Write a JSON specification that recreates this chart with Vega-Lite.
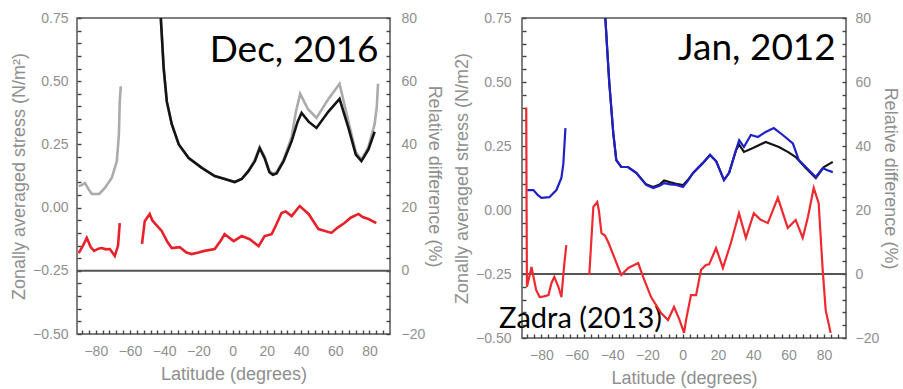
{
  "$schema": "https://vega.github.io/schema/vega-lite/v6.json",
  "background": "white",
  "padding": {"left": 9, "top": 10, "right": 0, "bottom": 0},
  "spacing": 8,
  "config": {
    "view": {"stroke": "#555", "strokeWidth": 1.5},
    "axis": {
      "domain": false, "grid": false, "labelOverlap": false, "labelFlush": false, "labelBound": false, "ticks": true,
      "labelFont": "Liberation Sans", "labelFontSize": 14, "labelColor": "#8f8f8f",
      "titleFont": "Liberation Sans", "titleFontSize": 18, "titleColor": "#8f8f8f", "titleFontWeight": "normal",
      "tickColor": "#444", "tickWidth": 1.4, "tickSize": 4, "offset": -4
    }
  },
  "datasets": {
    "L_stress": [
      {"series": "gray", "seg": "a", "lat": -90, "v": 0.085},
      {"series": "gray", "seg": "a", "lat": -88, "v": 0.09},
      {"series": "gray", "seg": "a", "lat": -86.4, "v": 0.097},
      {"series": "gray", "seg": "a", "lat": -84, "v": 0.07},
      {"series": "gray", "seg": "a", "lat": -82.3, "v": 0.054},
      {"series": "gray", "seg": "a", "lat": -78, "v": 0.054},
      {"series": "gray", "seg": "a", "lat": -74.7, "v": 0.078},
      {"series": "gray", "seg": "a", "lat": -70.7, "v": 0.117},
      {"series": "gray", "seg": "a", "lat": -67.7, "v": 0.184},
      {"series": "gray", "seg": "a", "lat": -66.5, "v": 0.29},
      {"series": "gray", "seg": "a", "lat": -66, "v": 0.42},
      {"series": "gray", "seg": "a", "lat": -65.4, "v": 0.48},
      {"series": "gray", "seg": "b", "lat": -42, "v": 0.75},
      {"series": "gray", "seg": "b", "lat": -40.3, "v": 0.55},
      {"series": "gray", "seg": "b", "lat": -38.5, "v": 0.42},
      {"series": "gray", "seg": "b", "lat": -35.6, "v": 0.33},
      {"series": "gray", "seg": "b", "lat": -31.5, "v": 0.25},
      {"series": "gray", "seg": "b", "lat": -25.7, "v": 0.196},
      {"series": "gray", "seg": "b", "lat": -18, "v": 0.157},
      {"series": "gray", "seg": "b", "lat": -10.5, "v": 0.125},
      {"series": "gray", "seg": "b", "lat": -4.6, "v": 0.113},
      {"series": "gray", "seg": "b", "lat": 1.2, "v": 0.101},
      {"series": "gray", "seg": "b", "lat": 5.3, "v": 0.113},
      {"series": "gray", "seg": "b", "lat": 9.3, "v": 0.145},
      {"series": "gray", "seg": "b", "lat": 13, "v": 0.19},
      {"series": "gray", "seg": "b", "lat": 15.8, "v": 0.24},
      {"series": "gray", "seg": "b", "lat": 18.7, "v": 0.2},
      {"series": "gray", "seg": "b", "lat": 21.5, "v": 0.145},
      {"series": "gray", "seg": "b", "lat": 23.5, "v": 0.135},
      {"series": "gray", "seg": "b", "lat": 25.7, "v": 0.14},
      {"series": "gray", "seg": "b", "lat": 29.8, "v": 0.19},
      {"series": "gray", "seg": "b", "lat": 34.5, "v": 0.28},
      {"series": "gray", "seg": "b", "lat": 37, "v": 0.38},
      {"series": "gray", "seg": "b", "lat": 39.5, "v": 0.45},
      {"series": "gray", "seg": "b", "lat": 44, "v": 0.39},
      {"series": "gray", "seg": "b", "lat": 49, "v": 0.355},
      {"series": "gray", "seg": "b", "lat": 56, "v": 0.43},
      {"series": "gray", "seg": "b", "lat": 62.5, "v": 0.49},
      {"series": "gray", "seg": "b", "lat": 67.7, "v": 0.34},
      {"series": "gray", "seg": "b", "lat": 72, "v": 0.22},
      {"series": "gray", "seg": "b", "lat": 75.3, "v": 0.19},
      {"series": "gray", "seg": "b", "lat": 79.4, "v": 0.24},
      {"series": "gray", "seg": "b", "lat": 83, "v": 0.33},
      {"series": "gray", "seg": "b", "lat": 84.3, "v": 0.4},
      {"series": "gray", "seg": "b", "lat": 85, "v": 0.49},
      {"series": "black", "seg": "b", "lat": -42, "v": 0.75},
      {"series": "black", "seg": "b", "lat": -40.3, "v": 0.55},
      {"series": "black", "seg": "b", "lat": -38.5, "v": 0.42},
      {"series": "black", "seg": "b", "lat": -35.6, "v": 0.33},
      {"series": "black", "seg": "b", "lat": -31.5, "v": 0.25},
      {"series": "black", "seg": "b", "lat": -25.7, "v": 0.196},
      {"series": "black", "seg": "b", "lat": -18, "v": 0.157},
      {"series": "black", "seg": "b", "lat": -10.5, "v": 0.125},
      {"series": "black", "seg": "b", "lat": -4.6, "v": 0.113},
      {"series": "black", "seg": "b", "lat": 1.2, "v": 0.101},
      {"series": "black", "seg": "b", "lat": 5.3, "v": 0.113},
      {"series": "black", "seg": "b", "lat": 9.3, "v": 0.145},
      {"series": "black", "seg": "b", "lat": 13, "v": 0.184},
      {"series": "black", "seg": "b", "lat": 15.8, "v": 0.235},
      {"series": "black", "seg": "b", "lat": 18.7, "v": 0.196},
      {"series": "black", "seg": "b", "lat": 21.5, "v": 0.14},
      {"series": "black", "seg": "b", "lat": 23.5, "v": 0.13},
      {"series": "black", "seg": "b", "lat": 25.7, "v": 0.135},
      {"series": "black", "seg": "b", "lat": 29.8, "v": 0.184},
      {"series": "black", "seg": "b", "lat": 34.5, "v": 0.263},
      {"series": "black", "seg": "b", "lat": 38, "v": 0.34},
      {"series": "black", "seg": "b", "lat": 40.3, "v": 0.374},
      {"series": "black", "seg": "b", "lat": 44.4, "v": 0.34},
      {"series": "black", "seg": "b", "lat": 49, "v": 0.315},
      {"series": "black", "seg": "b", "lat": 56, "v": 0.38},
      {"series": "black", "seg": "b", "lat": 62.5, "v": 0.43},
      {"series": "black", "seg": "b", "lat": 67.7, "v": 0.315},
      {"series": "black", "seg": "b", "lat": 72, "v": 0.21},
      {"series": "black", "seg": "b", "lat": 75.3, "v": 0.184},
      {"series": "black", "seg": "b", "lat": 79.4, "v": 0.23},
      {"series": "black", "seg": "b", "lat": 83, "v": 0.3}
    ],
    "L_rd": [
      {"seg": "a", "lat": -90, "rd": 5.6},
      {"seg": "a", "lat": -87.5, "rd": 8},
      {"seg": "a", "lat": -85.3, "rd": 10.4},
      {"seg": "a", "lat": -83, "rd": 7.5},
      {"seg": "a", "lat": -81, "rd": 6.3},
      {"seg": "a", "lat": -78.5, "rd": 7},
      {"seg": "a", "lat": -76.5, "rd": 7.2},
      {"seg": "a", "lat": -74, "rd": 6.8},
      {"seg": "a", "lat": -71.8, "rd": 6.9},
      {"seg": "a", "lat": -68.9, "rd": 4.7},
      {"seg": "a", "lat": -67, "rd": 8},
      {"seg": "a", "lat": -66, "rd": 15.1},
      {"seg": "b", "lat": -53, "rd": 8.5},
      {"seg": "b", "lat": -51.4, "rd": 15.7},
      {"seg": "b", "lat": -48.5, "rd": 18},
      {"seg": "b", "lat": -47, "rd": 16},
      {"seg": "b", "lat": -45.6, "rd": 15.1},
      {"seg": "b", "lat": -41.5, "rd": 12.6},
      {"seg": "b", "lat": -38, "rd": 9},
      {"seg": "b", "lat": -35.6, "rd": 7.2},
      {"seg": "b", "lat": -31, "rd": 7.5},
      {"seg": "b", "lat": -27, "rd": 5.8},
      {"seg": "b", "lat": -24, "rd": 5.3},
      {"seg": "b", "lat": -20, "rd": 5.8},
      {"seg": "b", "lat": -16.4, "rd": 6.3},
      {"seg": "b", "lat": -10.5, "rd": 6.9},
      {"seg": "b", "lat": -7, "rd": 9.5},
      {"seg": "b", "lat": -4.7, "rd": 11.6},
      {"seg": "b", "lat": 0.6, "rd": 9.4},
      {"seg": "b", "lat": 5.3, "rd": 11},
      {"seg": "b", "lat": 10, "rd": 10},
      {"seg": "b", "lat": 15.2, "rd": 7.8},
      {"seg": "b", "lat": 18.7, "rd": 11},
      {"seg": "b", "lat": 22.8, "rd": 11.6},
      {"seg": "b", "lat": 25, "rd": 14},
      {"seg": "b", "lat": 28.6, "rd": 18.3},
      {"seg": "b", "lat": 31, "rd": 18.8},
      {"seg": "b", "lat": 34.5, "rd": 17.3},
      {"seg": "b", "lat": 39.2, "rd": 20.5},
      {"seg": "b", "lat": 44.4, "rd": 18},
      {"seg": "b", "lat": 50.2, "rd": 13.2},
      {"seg": "b", "lat": 57.8, "rd": 12},
      {"seg": "b", "lat": 61, "rd": 13.5},
      {"seg": "b", "lat": 65.4, "rd": 15.1},
      {"seg": "b", "lat": 69, "rd": 16.8},
      {"seg": "b", "lat": 73.6, "rd": 18},
      {"seg": "b", "lat": 76, "rd": 17},
      {"seg": "b", "lat": 79.4, "rd": 16.4},
      {"seg": "b", "lat": 84, "rd": 15.1}
    ],
    "R_stress": [
      {"series": "black", "seg": "b", "lat": -43.8, "v": 0.75},
      {"series": "black", "seg": "b", "lat": -42.5, "v": 0.6},
      {"series": "black", "seg": "b", "lat": -41.6, "v": 0.5},
      {"series": "black", "seg": "b", "lat": -39.3, "v": 0.3},
      {"series": "black", "seg": "b", "lat": -37.6, "v": 0.195},
      {"series": "black", "seg": "b", "lat": -34.8, "v": 0.168},
      {"series": "black", "seg": "b", "lat": -31, "v": 0.168},
      {"series": "black", "seg": "b", "lat": -26.3, "v": 0.145},
      {"series": "black", "seg": "b", "lat": -20.7, "v": 0.1},
      {"series": "black", "seg": "b", "lat": -16.7, "v": 0.09},
      {"series": "black", "seg": "b", "lat": -13, "v": 0.1},
      {"series": "black", "seg": "b", "lat": -10.5, "v": 0.115},
      {"series": "black", "seg": "b", "lat": -7, "v": 0.108},
      {"series": "black", "seg": "b", "lat": -3.7, "v": 0.102},
      {"series": "black", "seg": "b", "lat": 0.2, "v": 0.097},
      {"series": "black", "seg": "b", "lat": 3, "v": 0.118},
      {"series": "black", "seg": "b", "lat": 5.9, "v": 0.145},
      {"series": "black", "seg": "b", "lat": 11.5, "v": 0.184},
      {"series": "black", "seg": "b", "lat": 15.5, "v": 0.215},
      {"series": "black", "seg": "b", "lat": 19, "v": 0.19},
      {"series": "black", "seg": "b", "lat": 23.4, "v": 0.117},
      {"series": "black", "seg": "b", "lat": 26.3, "v": 0.145},
      {"series": "black", "seg": "b", "lat": 30.2, "v": 0.234},
      {"series": "black", "seg": "b", "lat": 32, "v": 0.255},
      {"series": "black", "seg": "b", "lat": 34.7, "v": 0.227},
      {"series": "black", "seg": "b", "lat": 39.8, "v": 0.242},
      {"series": "black", "seg": "b", "lat": 47, "v": 0.266},
      {"series": "black", "seg": "b", "lat": 54.5, "v": 0.246},
      {"series": "black", "seg": "b", "lat": 60, "v": 0.225},
      {"series": "black", "seg": "b", "lat": 64, "v": 0.207},
      {"series": "black", "seg": "b", "lat": 69.7, "v": 0.164},
      {"series": "black", "seg": "b", "lat": 75.4, "v": 0.125},
      {"series": "black", "seg": "b", "lat": 80, "v": 0.168},
      {"series": "black", "seg": "b", "lat": 85, "v": 0.188},
      {"series": "blue", "seg": "a", "lat": -88, "v": 0.078},
      {"series": "blue", "seg": "a", "lat": -84.5, "v": 0.078},
      {"series": "blue", "seg": "a", "lat": -82, "v": 0.058},
      {"series": "blue", "seg": "a", "lat": -80, "v": 0.047},
      {"series": "blue", "seg": "a", "lat": -75.5, "v": 0.05},
      {"series": "blue", "seg": "a", "lat": -71.5, "v": 0.078},
      {"series": "blue", "seg": "a", "lat": -68.7, "v": 0.125},
      {"series": "blue", "seg": "a", "lat": -67.6, "v": 0.18},
      {"series": "blue", "seg": "a", "lat": -67, "v": 0.25},
      {"series": "blue", "seg": "a", "lat": -66.4, "v": 0.32},
      {"series": "blue", "seg": "b", "lat": -43.8, "v": 0.75},
      {"series": "blue", "seg": "b", "lat": -42.5, "v": 0.6},
      {"series": "blue", "seg": "b", "lat": -41.6, "v": 0.5},
      {"series": "blue", "seg": "b", "lat": -39.3, "v": 0.3},
      {"series": "blue", "seg": "b", "lat": -37.6, "v": 0.195},
      {"series": "blue", "seg": "b", "lat": -34.8, "v": 0.168},
      {"series": "blue", "seg": "b", "lat": -31, "v": 0.168},
      {"series": "blue", "seg": "b", "lat": -26.3, "v": 0.145},
      {"series": "blue", "seg": "b", "lat": -20.7, "v": 0.098},
      {"series": "blue", "seg": "b", "lat": -16.7, "v": 0.086},
      {"series": "blue", "seg": "b", "lat": -13, "v": 0.095},
      {"series": "blue", "seg": "b", "lat": -10.5, "v": 0.105},
      {"series": "blue", "seg": "b", "lat": -7, "v": 0.1},
      {"series": "blue", "seg": "b", "lat": -3.7, "v": 0.098},
      {"series": "blue", "seg": "b", "lat": 0.2, "v": 0.09},
      {"series": "blue", "seg": "b", "lat": 3, "v": 0.115},
      {"series": "blue", "seg": "b", "lat": 5.9, "v": 0.145},
      {"series": "blue", "seg": "b", "lat": 11.5, "v": 0.184},
      {"series": "blue", "seg": "b", "lat": 15.5, "v": 0.215},
      {"series": "blue", "seg": "b", "lat": 19, "v": 0.19},
      {"series": "blue", "seg": "b", "lat": 23.4, "v": 0.117},
      {"series": "blue", "seg": "b", "lat": 26.3, "v": 0.145},
      {"series": "blue", "seg": "b", "lat": 30.2, "v": 0.234},
      {"series": "blue", "seg": "b", "lat": 32, "v": 0.273},
      {"series": "blue", "seg": "b", "lat": 34.7, "v": 0.246},
      {"series": "blue", "seg": "b", "lat": 38.6, "v": 0.293},
      {"series": "blue", "seg": "b", "lat": 42.6, "v": 0.285},
      {"series": "blue", "seg": "b", "lat": 47, "v": 0.305},
      {"series": "blue", "seg": "b", "lat": 51.6, "v": 0.32},
      {"series": "blue", "seg": "b", "lat": 56.7, "v": 0.293},
      {"series": "blue", "seg": "b", "lat": 62.4, "v": 0.26},
      {"series": "blue", "seg": "b", "lat": 65.8, "v": 0.195},
      {"series": "blue", "seg": "b", "lat": 71.4, "v": 0.156},
      {"series": "blue", "seg": "b", "lat": 75.4, "v": 0.129},
      {"series": "blue", "seg": "b", "lat": 79.3, "v": 0.164},
      {"series": "blue", "seg": "b", "lat": 82, "v": 0.155},
      {"series": "blue", "seg": "b", "lat": 85, "v": 0.148}
    ],
    "R_rd": [
      {"seg": "a", "lat": -88.6, "rd": 52},
      {"seg": "a", "lat": -88.4, "rd": 20},
      {"seg": "a", "lat": -88.2, "rd": -4},
      {"seg": "a", "lat": -86.5, "rd": 0},
      {"seg": "a", "lat": -85.6, "rd": 2.2},
      {"seg": "a", "lat": -83, "rd": -5},
      {"seg": "a", "lat": -81, "rd": -7.2},
      {"seg": "a", "lat": -78.5, "rd": -7},
      {"seg": "a", "lat": -76, "rd": -6.6},
      {"seg": "a", "lat": -74.3, "rd": -2.8},
      {"seg": "a", "lat": -72.7, "rd": -0.9},
      {"seg": "a", "lat": -70.4, "rd": -4},
      {"seg": "a", "lat": -68.7, "rd": -7.2},
      {"seg": "a", "lat": -67, "rd": 3.4},
      {"seg": "a", "lat": -65.9, "rd": 9},
      {"seg": "b", "lat": -52.9, "rd": -0.3},
      {"seg": "b", "lat": -50.6, "rd": 21},
      {"seg": "b", "lat": -48.4, "rd": 22.5},
      {"seg": "b", "lat": -47.5, "rd": 20},
      {"seg": "b", "lat": -46, "rd": 12.8},
      {"seg": "b", "lat": -44, "rd": 12},
      {"seg": "b", "lat": -42.2, "rd": 10},
      {"seg": "b", "lat": -38.8, "rd": 5.3},
      {"seg": "b", "lat": -34.8, "rd": -0.3},
      {"seg": "b", "lat": -30.8, "rd": 1.9},
      {"seg": "b", "lat": -25.2, "rd": 3.4},
      {"seg": "b", "lat": -22.4, "rd": -0.9},
      {"seg": "b", "lat": -17.9, "rd": -7.2},
      {"seg": "b", "lat": -12.2, "rd": -12.2},
      {"seg": "b", "lat": -8.3, "rd": -14.4},
      {"seg": "b", "lat": -4.9, "rd": -10.3},
      {"seg": "b", "lat": -2, "rd": -14},
      {"seg": "b", "lat": 0.8, "rd": -18.4},
      {"seg": "b", "lat": 1.9, "rd": -14.4},
      {"seg": "b", "lat": 4.7, "rd": -6.6},
      {"seg": "b", "lat": 7.6, "rd": -6.6},
      {"seg": "b", "lat": 10.4, "rd": 1.3},
      {"seg": "b", "lat": 13.2, "rd": 2.8},
      {"seg": "b", "lat": 15, "rd": 3},
      {"seg": "b", "lat": 18.9, "rd": 8.1},
      {"seg": "b", "lat": 22.8, "rd": 1.9},
      {"seg": "b", "lat": 27.3, "rd": 9.7},
      {"seg": "b", "lat": 31.9, "rd": 19},
      {"seg": "b", "lat": 35.8, "rd": 11.3},
      {"seg": "b", "lat": 40.3, "rd": 19},
      {"seg": "b", "lat": 44, "rd": 17},
      {"seg": "b", "lat": 48.2, "rd": 15.9},
      {"seg": "b", "lat": 53.9, "rd": 23.8},
      {"seg": "b", "lat": 59.5, "rd": 14.4},
      {"seg": "b", "lat": 64, "rd": 16.9},
      {"seg": "b", "lat": 68, "rd": 11.3},
      {"seg": "b", "lat": 71, "rd": 18},
      {"seg": "b", "lat": 74.2, "rd": 26.9},
      {"seg": "b", "lat": 77, "rd": 22.2},
      {"seg": "b", "lat": 79.3, "rd": 1.3},
      {"seg": "b", "lat": 81, "rd": -11.3},
      {"seg": "b", "lat": 83.8, "rd": -18.4}
    ]
  },
  "hconcat": [
    {
      "width": 313,
      "height": 316,
      "layer": [
        {
          "layer": [
            {
              "data": {"name": "L_stress"},
              "transform": [{"filter": "datum.series == 'gray'"}],
              "mark": {"type": "line", "color": "#ababab", "strokeWidth": 2.6, "clip": true},
              "encoding": {
                "x": {"field": "lat", "type": "quantitative", "scale": {"domain": [-91, 92], "nice": false, "zero": false},
                  "axis": {"title": "Latitude (degrees)", "values": [-88,-84,-80,-76,-72,-68,-64,-60,-56,-52,-48,-44,-40,-36,-32,-28,-24,-20,-16,-12,-8,-4,0,4,8,12,16,20,24,28,32,36,40,44,48,52,56,60,64,68,72,76,80,84,88], "labelExpr": "datum.value % 20 == 0 ? datum.label : ''", "labelOverlap": false, "labelPadding": 10, "titlePadding": 7}},
                "y": {"field": "v", "type": "quantitative", "scale": {"domain": [-0.5, 0.75], "nice": false, "zero": false},
                  "axis": {"title": "Zonally averaged stress (N/m²)", "values": [-0.5,-0.45,-0.4,-0.35,-0.3,-0.25,-0.2,-0.15,-0.1,-0.05,0,0.05,0.1,0.15,0.2,0.25,0.3,0.35,0.4,0.45,0.5,0.55,0.6,0.65,0.7,0.75], "labelExpr": "abs(round(datum.value*100)) % 25 == 0 ? format(datum.value, '.2f') : ''", "labelOverlap": false, "labelPadding": 9, "titlePadding": 4}},
                "detail": {"field": "seg"}
              }
            },
            {
              "data": {"name": "L_stress"},
              "transform": [{"filter": "datum.series == 'black'"}],
              "mark": {"type": "line", "color": "#141414", "strokeWidth": 2.6, "clip": true},
              "encoding": {
                "x": {"field": "lat", "type": "quantitative",
                  "axis": {"title": "Latitude (degrees)", "values": [-88,-84,-80,-76,-72,-68,-64,-60,-56,-52,-48,-44,-40,-36,-32,-28,-24,-20,-16,-12,-8,-4,0,4,8,12,16,20,24,28,32,36,40,44,48,52,56,60,64,68,72,76,80,84,88], "labelExpr": "datum.value % 20 == 0 ? datum.label : ''", "labelOverlap": false, "labelPadding": 10, "titlePadding": 7}},
                "y": {"field": "v", "type": "quantitative",
                  "axis": {"title": "Zonally averaged stress (N/m²)", "values": [-0.5,-0.45,-0.4,-0.35,-0.3,-0.25,-0.2,-0.15,-0.1,-0.05,0,0.05,0.1,0.15,0.2,0.25,0.3,0.35,0.4,0.45,0.5,0.55,0.6,0.65,0.7,0.75], "labelExpr": "abs(round(datum.value*100)) % 25 == 0 ? format(datum.value, '.2f') : ''", "labelOverlap": false, "labelPadding": 9, "titlePadding": 4}},
                "detail": {"field": "seg"}
              }
            },
            {
              "data": {"values": [{}]},
              "mark": {"type": "rule", "color": "#555", "strokeWidth": 2},
              "encoding": {
                "y": {"datum": -0.25, "type": "quantitative",
                  "axis": {"title": "Zonally averaged stress (N/m²)", "values": [-0.5,-0.45,-0.4,-0.35,-0.3,-0.25,-0.2,-0.15,-0.1,-0.05,0,0.05,0.1,0.15,0.2,0.25,0.3,0.35,0.4,0.45,0.5,0.55,0.6,0.65,0.7,0.75], "labelExpr": "abs(round(datum.value*100)) % 25 == 0 ? format(datum.value, '.2f') : ''", "labelOverlap": false, "labelPadding": 9, "titlePadding": 4}}
              }
            },
            {
              "data": {"values": [{}]},
              "mark": {"type": "text", "align": "right", "baseline": "alphabetic", "font": "Lato", "fontSize": 37, "color": "black"},
              "encoding": {
                "x": {"datum": 85.3, "type": "quantitative",
                  "axis": {"title": "Latitude (degrees)", "values": [-88,-84,-80,-76,-72,-68,-64,-60,-56,-52,-48,-44,-40,-36,-32,-28,-24,-20,-16,-12,-8,-4,0,4,8,12,16,20,24,28,32,36,40,44,48,52,56,60,64,68,72,76,80,84,88], "labelExpr": "datum.value % 20 == 0 ? datum.label : ''", "labelOverlap": false, "labelPadding": 10, "titlePadding": 7}},
                "y": {"datum": 0.576, "type": "quantitative",
                  "axis": {"title": "Zonally averaged stress (N/m²)", "values": [-0.5,-0.45,-0.4,-0.35,-0.3,-0.25,-0.2,-0.15,-0.1,-0.05,0,0.05,0.1,0.15,0.2,0.25,0.3,0.35,0.4,0.45,0.5,0.55,0.6,0.65,0.7,0.75], "labelExpr": "abs(round(datum.value*100)) % 25 == 0 ? format(datum.value, '.2f') : ''", "labelOverlap": false, "labelPadding": 9, "titlePadding": 4}},
                "text": {"value": "Dec, 2016"}
              }
            }
          ]
        },
        {
          "data": {"name": "L_rd"},
          "mark": {"type": "line", "color": "#e8202a", "strokeWidth": 2.6, "clip": true},
          "encoding": {
            "x": {"field": "lat", "type": "quantitative",
              "axis": {"title": "Latitude (degrees)", "values": [-88,-84,-80,-76,-72,-68,-64,-60,-56,-52,-48,-44,-40,-36,-32,-28,-24,-20,-16,-12,-8,-4,0,4,8,12,16,20,24,28,32,36,40,44,48,52,56,60,64,68,72,76,80,84,88], "labelExpr": "datum.value % 20 == 0 ? datum.label : ''", "labelOverlap": false, "labelPadding": 10, "titlePadding": 7}},
            "y": {"field": "rd", "type": "quantitative", "scale": {"domain": [-20, 80], "nice": false, "zero": false},
              "axis": {"orient": "right", "title": "Relative difference (%)", "values": [-20,-16,-12,-8,-4,0,4,8,12,16,20,24,28,32,36,40,44,48,52,56,60,64,68,72,76,80], "labelExpr": "datum.value % 20 == 0 ? datum.label : ''", "labelOverlap": false, "labelPadding": 11, "titlePadding": 0}},
            "detail": {"field": "seg"}
          }
        }
      ],
      "resolve": {"scale": {"y": "independent"}}
    },
    {
      "width": 324,
      "height": 320,
      "layer": [
        {
          "layer": [
            {
              "data": {"name": "R_stress"},
              "transform": [{"filter": "datum.series == 'black'"}],
              "mark": {"type": "line", "color": "#141414", "strokeWidth": 2.2, "clip": true},
              "encoding": {
                "x": {"field": "lat", "type": "quantitative", "scale": {"domain": [-91, 92.5], "nice": false, "zero": false},
                  "axis": {"title": "Latitude (degrees)", "values": [-88,-84,-80,-76,-72,-68,-64,-60,-56,-52,-48,-44,-40,-36,-32,-28,-24,-20,-16,-12,-8,-4,0,4,8,12,16,20,24,28,32,36,40,44,48,52,56,60,64,68,72,76,80,84,88], "labelExpr": "datum.value % 20 == 0 ? datum.label : ''", "labelOverlap": false, "labelPadding": 10, "titlePadding": 7}},
                "y": {"field": "v", "type": "quantitative", "scale": {"domain": [-0.5, 0.75], "nice": false, "zero": false},
                  "axis": {"title": "Zonally averaged stress (N/m2)", "values": [-0.5,-0.45,-0.4,-0.35,-0.3,-0.25,-0.2,-0.15,-0.1,-0.05,0,0.05,0.1,0.15,0.2,0.25,0.3,0.35,0.4,0.45,0.5,0.55,0.6,0.65,0.7,0.75], "labelExpr": "abs(round(datum.value*100)) % 25 == 0 ? format(datum.value, '.2f') : ''", "labelOverlap": false, "labelPadding": 11, "titlePadding": 4}},
                "detail": {"field": "seg"}
              }
            },
            {
              "data": {"name": "R_stress"},
              "transform": [{"filter": "datum.series == 'blue'"}],
              "mark": {"type": "line", "color": "#2020c8", "strokeWidth": 2.2, "clip": true},
              "encoding": {
                "x": {"field": "lat", "type": "quantitative",
                  "axis": {"title": "Latitude (degrees)", "values": [-88,-84,-80,-76,-72,-68,-64,-60,-56,-52,-48,-44,-40,-36,-32,-28,-24,-20,-16,-12,-8,-4,0,4,8,12,16,20,24,28,32,36,40,44,48,52,56,60,64,68,72,76,80,84,88], "labelExpr": "datum.value % 20 == 0 ? datum.label : ''", "labelOverlap": false, "labelPadding": 10, "titlePadding": 7}},
                "y": {"field": "v", "type": "quantitative",
                  "axis": {"title": "Zonally averaged stress (N/m2)", "values": [-0.5,-0.45,-0.4,-0.35,-0.3,-0.25,-0.2,-0.15,-0.1,-0.05,0,0.05,0.1,0.15,0.2,0.25,0.3,0.35,0.4,0.45,0.5,0.55,0.6,0.65,0.7,0.75], "labelExpr": "abs(round(datum.value*100)) % 25 == 0 ? format(datum.value, '.2f') : ''", "labelOverlap": false, "labelPadding": 11, "titlePadding": 4}},
                "detail": {"field": "seg"}
              }
            },
            {
              "data": {"values": [{}]},
              "mark": {"type": "rule", "color": "#555", "strokeWidth": 2},
              "encoding": {
                "y": {"datum": -0.25, "type": "quantitative",
                  "axis": {"title": "Zonally averaged stress (N/m2)", "values": [-0.5,-0.45,-0.4,-0.35,-0.3,-0.25,-0.2,-0.15,-0.1,-0.05,0,0.05,0.1,0.15,0.2,0.25,0.3,0.35,0.4,0.45,0.5,0.55,0.6,0.65,0.7,0.75], "labelExpr": "abs(round(datum.value*100)) % 25 == 0 ? format(datum.value, '.2f') : ''", "labelOverlap": false, "labelPadding": 11, "titlePadding": 4}}
              }
            },
            {
              "data": {"values": [{}]},
              "mark": {"type": "text", "align": "right", "baseline": "alphabetic", "font": "Lato", "fontSize": 37, "color": "black"},
              "encoding": {
                "x": {"datum": 86.7, "type": "quantitative",
                  "axis": {"title": "Latitude (degrees)", "values": [-88,-84,-80,-76,-72,-68,-64,-60,-56,-52,-48,-44,-40,-36,-32,-28,-24,-20,-16,-12,-8,-4,0,4,8,12,16,20,24,28,32,36,40,44,48,52,56,60,64,68,72,76,80,84,88], "labelExpr": "datum.value % 20 == 0 ? datum.label : ''", "labelOverlap": false, "labelPadding": 10, "titlePadding": 7}},
                "y": {"datum": 0.586, "type": "quantitative",
                  "axis": {"title": "Zonally averaged stress (N/m2)", "values": [-0.5,-0.45,-0.4,-0.35,-0.3,-0.25,-0.2,-0.15,-0.1,-0.05,0,0.05,0.1,0.15,0.2,0.25,0.3,0.35,0.4,0.45,0.5,0.55,0.6,0.65,0.7,0.75], "labelExpr": "abs(round(datum.value*100)) % 25 == 0 ? format(datum.value, '.2f') : ''", "labelOverlap": false, "labelPadding": 11, "titlePadding": 4}},
                "text": {"value": "Jan, 2012"}
              }
            },
            {
              "data": {"values": [{}]},
              "mark": {"type": "text", "align": "left", "baseline": "alphabetic", "font": "Lato", "fontSize": 29, "color": "black"},
              "encoding": {
                "x": {"datum": -104, "type": "quantitative",
                  "axis": {"title": "Latitude (degrees)", "values": [-88,-84,-80,-76,-72,-68,-64,-60,-56,-52,-48,-44,-40,-36,-32,-28,-24,-20,-16,-12,-8,-4,0,4,8,12,16,20,24,28,32,36,40,44,48,52,56,60,64,68,72,76,80,84,88], "labelExpr": "datum.value % 20 == 0 ? datum.label : ''", "labelOverlap": false, "labelPadding": 10, "titlePadding": 7}},
                "y": {"datum": -0.461, "type": "quantitative",
                  "axis": {"title": "Zonally averaged stress (N/m2)", "values": [-0.5,-0.45,-0.4,-0.35,-0.3,-0.25,-0.2,-0.15,-0.1,-0.05,0,0.05,0.1,0.15,0.2,0.25,0.3,0.35,0.4,0.45,0.5,0.55,0.6,0.65,0.7,0.75], "labelExpr": "abs(round(datum.value*100)) % 25 == 0 ? format(datum.value, '.2f') : ''", "labelOverlap": false, "labelPadding": 11, "titlePadding": 4}},
                "text": {"value": "Zadra (2013)"}
              }
            }
          ]
        },
        {
          "data": {"name": "R_rd"},
          "mark": {"type": "line", "color": "#ee2a30", "strokeWidth": 2.2, "clip": true},
          "encoding": {
            "x": {"field": "lat", "type": "quantitative",
              "axis": {"title": "Latitude (degrees)", "values": [-88,-84,-80,-76,-72,-68,-64,-60,-56,-52,-48,-44,-40,-36,-32,-28,-24,-20,-16,-12,-8,-4,0,4,8,12,16,20,24,28,32,36,40,44,48,52,56,60,64,68,72,76,80,84,88], "labelExpr": "datum.value % 20 == 0 ? datum.label : ''", "labelOverlap": false, "labelPadding": 10, "titlePadding": 7}},
            "y": {"field": "rd", "type": "quantitative", "scale": {"domain": [-20, 80], "nice": false, "zero": false},
              "axis": {"orient": "right", "title": "Relative difference (%)", "values": [-20,-16,-12,-8,-4,0,4,8,12,16,20,24,28,32,36,40,44,48,52,56,60,64,68,72,76,80], "labelExpr": "datum.value % 20 == 0 ? datum.label : ''", "labelOverlap": false, "labelPadding": 9, "titlePadding": 2}},
            "detail": {"field": "seg"}
          }
        }
      ],
      "resolve": {"scale": {"y": "independent"}}
    }
  ]
}
